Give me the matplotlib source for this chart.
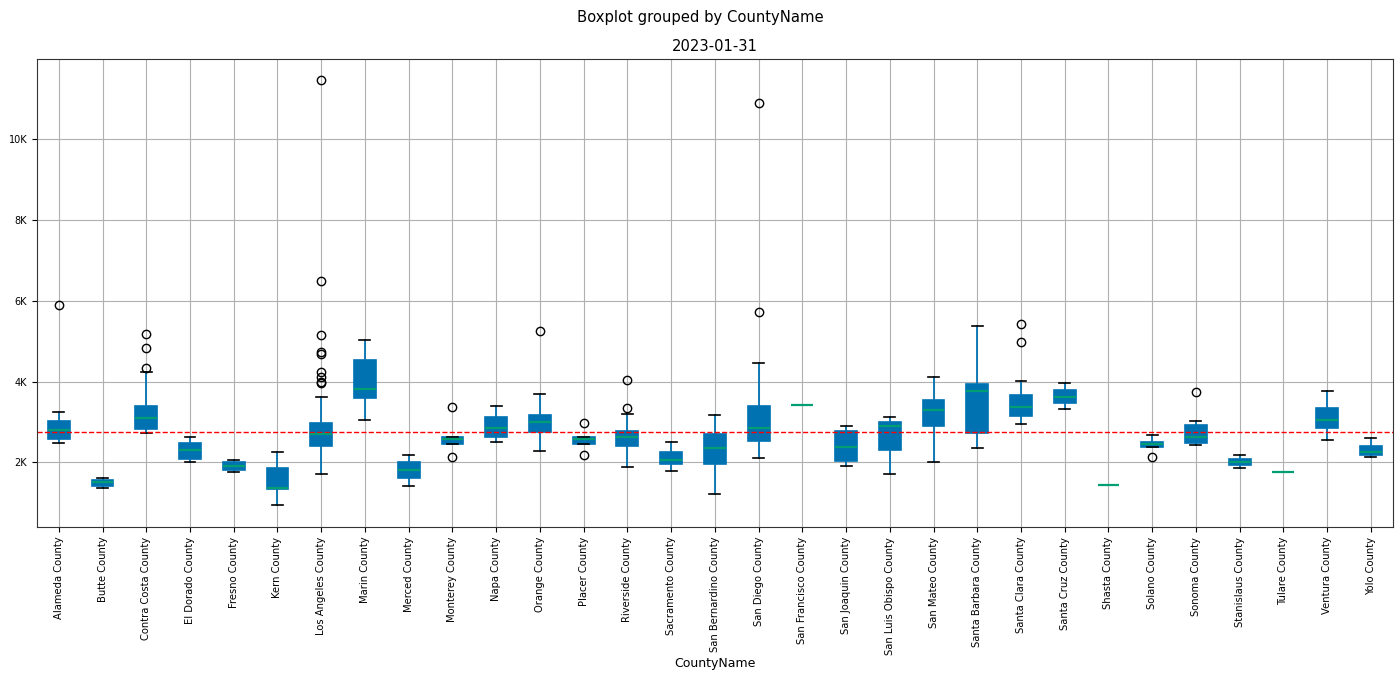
import matplotlib
matplotlib.use("Agg")
import matplotlib.pyplot as plt
from matplotlib.ticker import FuncFormatter

counties = ["Alameda County", "Butte County", "Contra Costa County", "El Dorado County",
            "Fresno County", "Kern County", "Los Angeles County", "Marin County",
            "Merced County", "Monterey County", "Napa County", "Orange County",
            "Placer County", "Riverside County", "Sacramento County", "San Bernardino County",
            "San Diego County", "San Francisco County", "San Joaquin County",
            "San Luis Obispo County", "San Mateo County", "Santa Barbara County",
            "Santa Clara County", "Santa Cruz County", "Shasta County", "Solano County",
            "Sonoma County", "Stanislaus County", "Tulare County", "Ventura County",
            "Yolo County"]

whislo = [2478, 1357, 2725, 2000, 1753, 946, 1712, 3054, 1407, 2445, 2502, 2288,
          2453, 1885, 1778, 1226, 2107, 3425, 1909, 1712, 2016, 2346, 2947, 3334,
          1448, 2395, 2428, 1860, 1769, 2568, 2148]
q1 = [2593, 1423, 2832, 2082, 1819, 1341, 2412, 3606, 1621, 2455, 2642, 2758,
      2455, 2412, 1959, 1951, 2519, 3425, 2049, 2297, 2914, 2725, 3161, 3466,
      1448, 2395, 2494, 1926, 1769, 2865, 2181]
median = [2807, 1506, 3096, 2313, 1918, 1357, 2708, 3829, 1819, 2577, 2848, 2997,
          2577, 2642, 2066, 2346, 2848, 3425, 2395, 2890, 3301, 3779, 3384, 3614,
          1448, 2453, 2626, 2008, 1769, 3046, 2255]
q3 = [3038, 1563, 3400, 2478, 2000, 1852, 2972, 4537, 2000, 2642, 3120, 3170,
      2618, 2774, 2247, 2700, 3392, 3425, 2774, 3013, 3549, 3936, 3672, 3787,
      1448, 2502, 2923, 2082, 1769, 3343, 2420]
whishi = [3236, 1621, 4249, 2618, 2066, 2264, 3631, 5040, 2173, 2642, 3400, 3697,
          2618, 3211, 2502, 3186, 4463, 3425, 2914, 3120, 4109, 5386, 4018, 3960,
          1448, 2675, 3030, 2189, 1769, 3779, 2610]
fliers = [[5896], [], [5171, 4842, 4331], [], [], [],
          [11448, 6489, 5156, 4729, 4679, 4249, 4125, 4002, 3962],
          [], [], [3384, 2132], [], [5254], [2988, 2189], [4043, 3359], [], [],
          [10896, 5715], [], [], [], [], [], [5435, 4990], [], [], [2132], [3738],
          [], [], [], []]

reference_value = 2750

fig = plt.figure(figsize=(14, 6.79), dpi=100)
ax = fig.add_axes([0.0264, 0.2238, 0.9684, 0.6893])

stats = []
for i, name in enumerate(counties):
    stats.append(dict(label=name, whislo=whislo[i], q1=q1[i], med=median[i],
                      q3=q3[i], whishi=whishi[i], fliers=fliers[i]))

blue = "#0072B2"
green = "#009E73"
bp = ax.bxp(stats, positions=range(1, len(counties) + 1), widths=0.5,
            patch_artist=True,
            boxprops=dict(facecolor=blue, edgecolor=blue, linewidth=1.2),
            whiskerprops=dict(color=blue, linewidth=1.3),
            capprops=dict(color="black", linewidth=1.2),
            medianprops=dict(color=green, linewidth=1.6),
            flierprops=dict(marker="o", markerfacecolor="none",
                            markeredgecolor="black", markersize=6))

ax.axhline(reference_value, color="red", linestyle="--", linewidth=1)
ax.grid(True, color="#b0b0b0", linewidth=0.8)
ax.set_axisbelow(True)
ax.yaxis.set_major_formatter(FuncFormatter(lambda v, p: f"{int(v/1000)}K"))
ax.set_yticks([2000, 4000, 6000, 8000, 10000])
ax.set_ylim(404, 11976)
ax.set_xlim(0.5, len(counties) + 0.5)
ax.tick_params(axis="x", labelrotation=90, labelsize=7.2)
ax.tick_params(axis="y", labelsize=7)
ax.set_xlabel("CountyName", fontsize=9, labelpad=2)
ax.set_title("2023-01-31", fontsize=10.6, pad=6)
fig.suptitle("Boxplot grouped by CountyName", fontsize=10.6, y=0.985)
for sp in ax.spines.values():
    sp.set_color("#333333")

fig.savefig("out.png", dpi=100)
